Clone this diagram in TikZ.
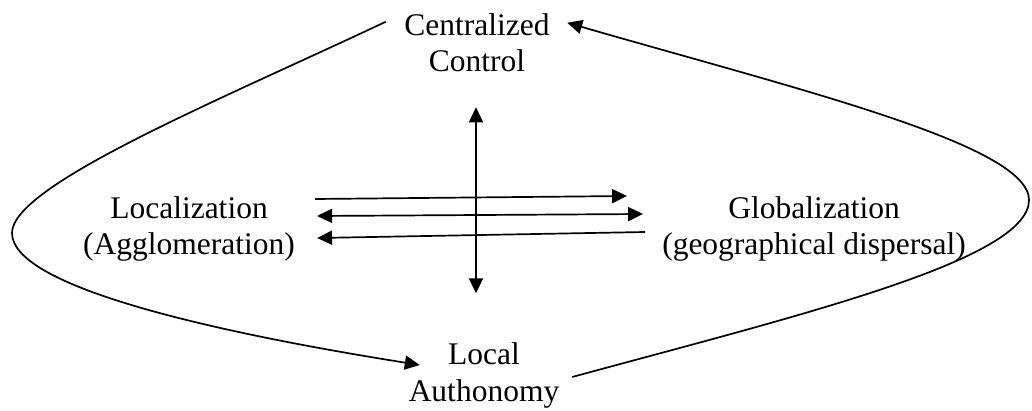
\documentclass[tikz,border=0pt]{standalone}
\usepackage{fontspec}
\setmainfont{Liberation Serif}
\usetikzlibrary{arrows.meta}
\begin{document}
\begin{tikzpicture}[x=1pt,y=1pt,
  >={Triangle[length=15pt,width=14pt]},
  lbl/.style={align=center, inner sep=0pt, font=\fontsize{31.5}{36.5}\selectfont},
  arr/.style={line width=1.7pt}]
  \useasboundingbox (0,0) rectangle (1032,410);

  \node[lbl] (ctrl) at (477,367.25) {Centralized\\Control};
  \node[lbl] (auto) at (484,34.4) {Local\\Authonomy};
  \node[lbl] (loc) at (189,181) {Localization\\(Agglomeration)};
  \node[lbl] (glob) at (814,181) {Globalization\\(geographical dispersal)};

  \draw[arr,<->] ([shift={(-1pt,-35pt)}]ctrl.south) -- ([shift={(-8pt,49.5pt)}]auto.north);

  \draw[arr,->] ([shift={(20pt,30pt)}]loc.east) -- ([shift={(-35pt,33pt)}]glob.west);
  \draw[arr,<->] ([shift={(22pt,13pt)}]loc.east) -- ([shift={(-19pt,15pt)}]glob.west);
  \draw[arr,->] ([shift={(-17pt,-3pt)}]glob.west) -- ([shift={(22pt,-9pt)}]loc.east);

  \draw[arr,->] ([shift={(-18.4pt,-8.5pt)}]ctrl.north west)
    .. controls (220,310) and (12,225) .. (12,177)
    .. controls (12,125) and (200,80) .. ([shift={(11.25pt,10.6pt)}]auto.west);
  \draw[arr,->] ([shift={(12.75pt,-1.4pt)}]auto.east)
    .. controls (800,95) and (1029,150) .. (1029,210)
    .. controls (1029,265) and (800,320) .. ([shift={(17.4pt,-9.5pt)}]ctrl.north east);
\end{tikzpicture}
\end{document}
